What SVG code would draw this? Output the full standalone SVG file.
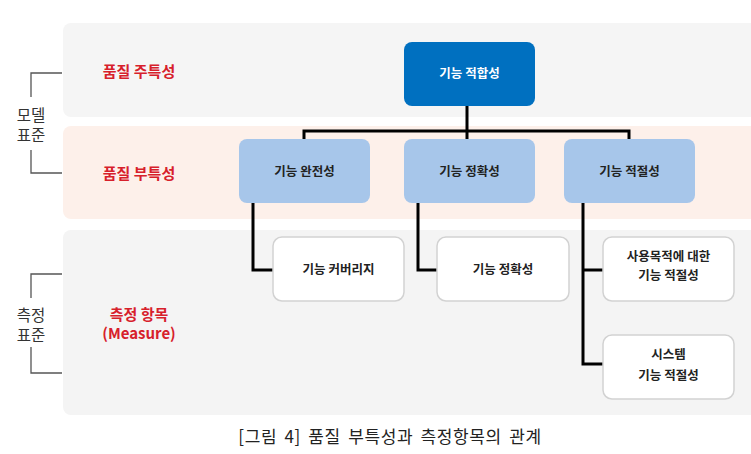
<svg xmlns="http://www.w3.org/2000/svg" width="751" height="454" viewBox="0 0 751 454">
<style>
text{font-family:"Noto Sans CJK KR","Noto Sans",sans-serif;}
.band-label{fill:#d7202b;font-size:15px;font-weight:bold;text-anchor:middle;}
.side{fill:#333;font-size:15.5px;text-anchor:middle;}
.node-t{font-size:12.5px;font-weight:bold;text-anchor:middle;fill:#222;}
.bracket{fill:none;stroke:#555;stroke-width:1.3;}
.conn{fill:none;stroke:#000;stroke-width:3;}
.blue{fill:#a7c6ea;}
.white{fill:#fff;stroke:#d2d2d2;stroke-width:1.5;}
</style>
<rect width="751" height="454" fill="#fff"/>
<g id="bands">
<rect x="63" y="23" width="700" height="94" rx="8" fill="#f5f5f5"/>
<rect x="63" y="126" width="700" height="93" rx="8" fill="#fdf0ea"/>
<rect x="63" y="230" width="700" height="185" rx="8" fill="#f4f4f4"/>
</g>
<g id="side-labels">
<path class="bracket" d="M62 73 H31 V97 M31 150 V173 H62"/>
<text class="side" x="31" y="121">모델</text>
<text class="side" x="31" y="141">표준</text>
<path class="bracket" d="M62 274 H31 V298 M31 347 V373 H62"/>
<text class="side" x="31" y="321">측정</text>
<text class="side" x="31" y="341">표준</text>
</g>
<g id="band-labels">
<text class="band-label" x="139" y="77">품질 주특성</text>
<text class="band-label" x="139" y="179">품질 부특성</text>
<text class="band-label" x="139" y="320">측정 항목</text>
<text class="band-label" x="139" y="339">(Measure)</text>
</g>
<g id="connectors">
<path class="conn" d="M467 106 V131 M304 140 V131 H629 V140 M467 131 V140"/>
<path class="conn" d="M253 203 V270 H274"/>
<path class="conn" d="M418 203 V270 H438"/>
<path class="conn" d="M583 203 V364 H604 M583 270 H604"/>
</g>
<g id="node-top">
<rect x="404" y="42" width="131" height="64" rx="8" fill="#0070c0"/>
<text class="node-t" x="469.5" y="78" style="fill:#fff">기능 적합성</text>
</g>
<g id="node-completeness">
<rect class="blue" x="239" y="139" width="131" height="64" rx="8"/>
<text class="node-t" x="304.5" y="176">기능 완전성</text>
</g>
<g id="node-correctness">
<rect class="blue" x="404" y="139" width="131" height="64" rx="8"/>
<text class="node-t" x="469.5" y="176">기능 정확성</text>
</g>
<g id="node-appropriateness">
<rect class="blue" x="564" y="139" width="131" height="64" rx="8"/>
<text class="node-t" x="629.5" y="176">기능 적절성</text>
</g>
<g id="node-coverage">
<rect class="white" x="273" y="237" width="131" height="64" rx="9"/>
<text class="node-t" x="338.5" y="274">기능 커버리지</text>
</g>
<g id="node-correctness-m">
<rect class="white" x="437" y="237" width="132" height="64" rx="9"/>
<text class="node-t" x="503" y="274">기능 정확성</text>
</g>
<g id="node-purpose">
<rect class="white" x="603" y="237" width="131" height="64" rx="9"/>
<text class="node-t" x="668.5" y="261">사용목적에 대한</text>
<text class="node-t" x="668.5" y="280">기능 적절성</text>
</g>
<g id="node-system">
<rect class="white" x="603" y="335" width="131" height="64" rx="9"/>
<text class="node-t" x="668.5" y="359">시스템</text>
<text class="node-t" x="668.5" y="380">기능 적절성</text>
</g>
<text x="390" y="443" font-size="17" letter-spacing="0.6" word-spacing="3" fill="#222" text-anchor="middle">[그림 4] 품질 부특성과 측정항목의 관계</text>
</svg>
